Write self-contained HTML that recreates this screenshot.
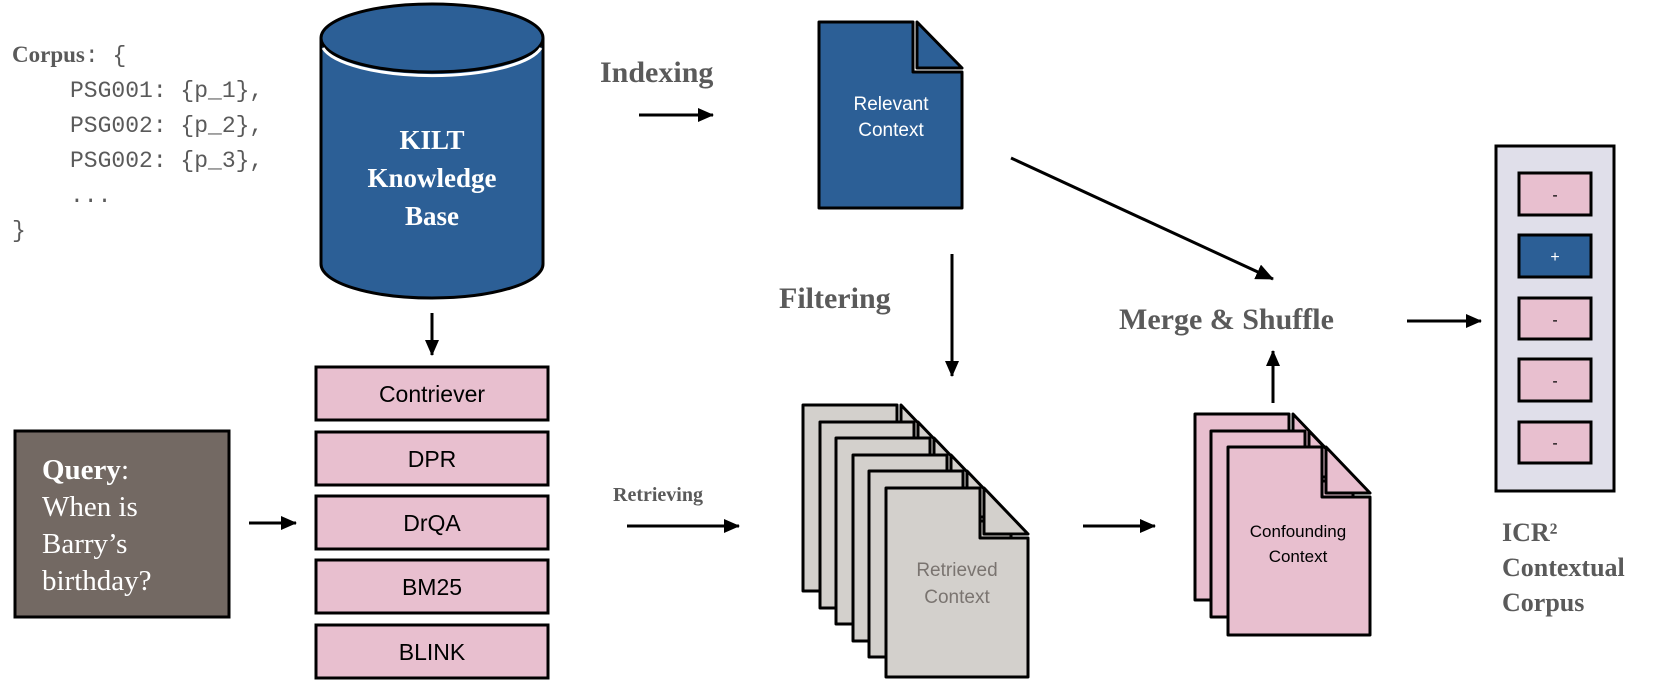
<!DOCTYPE html>
<html><head><meta charset="utf-8"><style>
html,body{margin:0;padding:0;background:#fff;}
svg{display:block;}
.ser{font-family:"Liberation Serif",serif;font-weight:bold;fill:#5a5a5a;}
.sans{font-family:"Liberation Sans",sans-serif;}
.mono{font-family:"Liberation Mono",monospace;fill:#5a5a5a;}
</style></head><body>
<svg width="1660" height="683" viewBox="0 0 1660 683" xmlns="http://www.w3.org/2000/svg">
<defs>
<marker id="ah" markerWidth="16" markerHeight="14" refX="15" refY="7" orient="auto" markerUnits="userSpaceOnUse">
<path d="M0,0 L16,7 L0,14 Z" fill="#000"/></marker>
<marker id="ahb" markerWidth="18" markerHeight="16" refX="17" refY="8" orient="auto" markerUnits="userSpaceOnUse">
<path d="M0,0 L18,8 L0,16 Z" fill="#000"/></marker>
</defs>

<!-- Corpus -->
<text x="12" y="62" font-size="23" class="mono"><tspan class="ser" style="font-size:23px">Corpus</tspan>: {</text>
<text x="70" y="97" font-size="23" class="mono">PSG001: {p_1},</text>
<text x="70" y="132" font-size="23" class="mono">PSG002: {p_2},</text>
<text x="70" y="167" font-size="23" class="mono">PSG002: {p_3},</text>
<text x="70" y="202" font-size="23" class="mono">...</text>
<text x="12" y="237" font-size="23" class="mono">}</text>

<!-- Cylinder -->
<path d="M321,38 V264 A111,34 0 0 0 543,264 V38" fill="#2c5f96" stroke="#000" stroke-width="3"/>
<ellipse cx="432" cy="38" rx="111" ry="34" fill="#2c5f96" stroke="#000" stroke-width="3"/>
<path d="M323,48 A111,34 0 0 0 541,48" fill="none" stroke="#fff" stroke-width="3"/>
<text x="432" y="149" font-size="27" class="ser" style="fill:#fff" text-anchor="middle">KILT</text>
<text x="432" y="187" font-size="27" class="ser" style="fill:#fff" text-anchor="middle">Knowledge</text>
<text x="432" y="225" font-size="27" class="ser" style="fill:#fff" text-anchor="middle">Base</text>
<line x1="432" y1="313" x2="432" y2="355" stroke="#000" stroke-width="3" marker-end="url(#ah)"/>

<!-- Retrievers -->
<g stroke="#000" stroke-width="3" fill="#e8bfcf">
<rect x="316" y="367" width="232" height="53"/>
<rect x="316" y="432" width="232" height="53"/>
<rect x="316" y="496" width="232" height="53"/>
<rect x="316" y="560" width="232" height="53"/>
<rect x="316" y="625" width="232" height="53"/>
</g>
<g class="sans" font-size="23" text-anchor="middle" fill="#000">
<text x="432" y="402">Contriever</text>
<text x="432" y="467">DPR</text>
<text x="432" y="531">DrQA</text>
<text x="432" y="595">BM25</text>
<text x="432" y="660">BLINK</text>
</g>

<!-- Query -->
<rect x="15" y="431" width="214" height="186" fill="#736963" stroke="#000" stroke-width="3"/>
<g font-family="Liberation Serif,serif" font-size="29" fill="#fff">
<text x="42" y="479"><tspan font-weight="bold">Query</tspan>:</text>
<text x="42" y="516">When is</text>
<text x="42" y="553">Barry’s</text>
<text x="42" y="590">birthday?</text>
</g>
<line x1="249" y1="523" x2="296" y2="523" stroke="#000" stroke-width="3" marker-end="url(#ah)"/>

<!-- Indexing -->
<text x="600" y="82" font-size="30" class="ser">Indexing</text>
<line x1="639" y1="115" x2="713" y2="115" stroke="#000" stroke-width="3" marker-end="url(#ah)"/>
<text x="613" y="501" font-size="20" class="ser">Retrieving</text>
<line x1="627" y1="526" x2="739" y2="526" stroke="#000" stroke-width="3" marker-end="url(#ah)"/>

<!-- Relevant doc -->
<path d="M819,22 H913 V72 H962 V208 H819 Z" fill="#2c5f96" stroke="#000" stroke-width="3" stroke-linejoin="round"/>
<path d="M917,22 L962,68 H917 Z" fill="#2c5f96" stroke="#000" stroke-width="3" stroke-linejoin="round"/>
<text x="891" y="110" font-size="19" class="sans" fill="#fff" text-anchor="middle">Relevant</text>
<text x="891" y="136" font-size="19" class="sans" fill="#fff" text-anchor="middle">Context</text>

<!-- Filtering -->
<text x="779" y="308" font-size="30" class="ser">Filtering</text>
<line x1="952" y1="254" x2="952" y2="376" stroke="#000" stroke-width="3" marker-end="url(#ah)"/>

<!-- Diagonal arrow -->
<line x1="1011" y1="158" x2="1273" y2="279" stroke="#000" stroke-width="3" marker-end="url(#ahb)"/>

<!-- Retrieved stack -->
<g stroke="#000" stroke-width="3" fill="#d3d0cc" stroke-linejoin="round">
<path d="M803,405 H897 V455 H945 V591 H803 Z"/><path d="M901,405 L945,451 H901 Z"/>
<path d="M820,422 H914 V472 H962 V608 H820 Z"/><path d="M918,422 L962,468 H918 Z"/>
<path d="M836,438 H930 V488 H978 V624 H836 Z"/><path d="M934,438 L978,484 H934 Z"/>
<path d="M853,455 H947 V505 H995 V641 H853 Z"/><path d="M951,455 L995,501 H951 Z"/>
<path d="M869,471 H963 V521 H1011 V657 H869 Z"/><path d="M967,471 L1011,517 H967 Z"/>
<path d="M886,488 H980 V538 H1028 V677 H886 Z"/><path d="M984,488 L1028,534 H984 Z"/>
</g>
<text x="957" y="576" font-size="19" class="sans" fill="#7a7470" text-anchor="middle">Retrieved</text>
<text x="957" y="603" font-size="19" class="sans" fill="#7a7470" text-anchor="middle">Context</text>
<line x1="1083" y1="526" x2="1155" y2="526" stroke="#000" stroke-width="3" marker-end="url(#ah)"/>

<!-- Confounding stack -->
<g stroke="#000" stroke-width="3" fill="#e8bfcf" stroke-linejoin="round">
<path d="M1195,414 H1289 V464 H1337 V600 H1195 Z"/><path d="M1293,414 L1337,460 H1293 Z"/>
<path d="M1211,431 H1305 V481 H1353 V617 H1211 Z"/><path d="M1309,431 L1353,477 H1309 Z"/>
<path d="M1228,447 H1322 V497 H1370 V635 H1228 Z"/><path d="M1326,447 L1370,493 H1326 Z"/>
</g>
<text x="1298" y="537" font-size="17" class="sans" fill="#000" text-anchor="middle">Confounding</text>
<text x="1298" y="562" font-size="17" class="sans" fill="#000" text-anchor="middle">Context</text>
<line x1="1273" y1="403" x2="1273" y2="351" stroke="#000" stroke-width="3" marker-end="url(#ah)"/>

<!-- Merge & Shuffle -->
<text x="1119" y="329" font-size="30" class="ser">Merge &amp; Shuffle</text>
<line x1="1407" y1="321" x2="1481" y2="321" stroke="#000" stroke-width="3" marker-end="url(#ah)"/>

<!-- ICR panel -->
<rect x="1496" y="146" width="118" height="345" fill="#e0dfea" stroke="#000" stroke-width="3"/>
<g stroke="#000" stroke-width="3">
<rect x="1519" y="173" width="72" height="42" fill="#e8bfcf"/>
<rect x="1519" y="235" width="72" height="42" fill="#2c5f96"/>
<rect x="1519" y="298" width="72" height="41" fill="#e8bfcf"/>
<rect x="1519" y="359" width="72" height="42" fill="#e8bfcf"/>
<rect x="1519" y="422" width="72" height="41" fill="#e8bfcf"/>
</g>
<g class="sans" font-size="16" text-anchor="middle">
<text x="1555" y="200" fill="#000">-</text>
<text x="1555" y="262" fill="#fff">+</text>
<text x="1555" y="325" fill="#000">-</text>
<text x="1555" y="386" fill="#000">-</text>
<text x="1555" y="448" fill="#000">-</text>
</g>
<text x="1502" y="541" font-size="26" class="ser">ICR²</text>
<text x="1502" y="576" font-size="26" class="ser">Contextual</text>
<text x="1502" y="611" font-size="26" class="ser">Corpus</text>
</svg>
</body></html>
